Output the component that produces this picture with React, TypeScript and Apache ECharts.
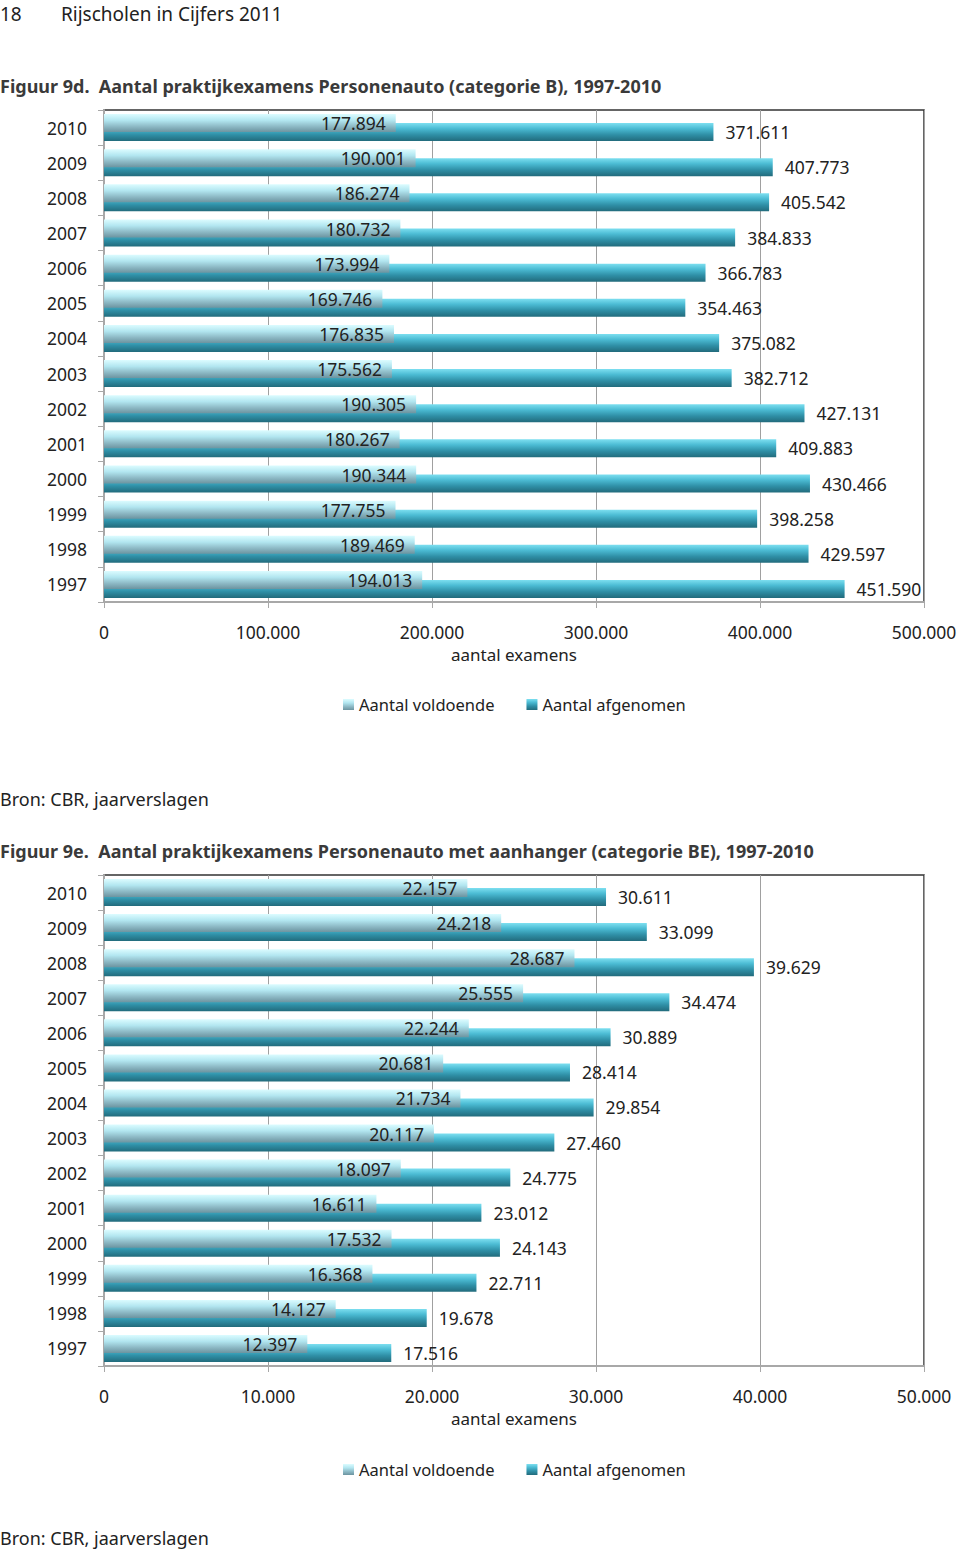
import React, { useEffect, useRef } from "react";
import * as echarts from "echarts";

const years = ["2010", "2009", "2008", "2007", "2006", "2005", "2004", "2003", "2002", "2001", "2000", "1999", "1998", "1997"];

const bVoldoende = [177894, 190001, 186274, 180732, 173994, 169746, 176835, 175562, 190305, 180267, 190344, 177755, 189469, 194013];
const bAfgenomen = [371611, 407773, 405542, 384833, 366783, 354463, 375082, 382712, 427131, 409883, 430466, 398258, 429597, 451590];

const beVoldoende = [22157, 24218, 28687, 25555, 22244, 20681, 21734, 20117, 18097, 16611, 17532, 16368, 14127, 12397];
const beAfgenomen = [30611, 33099, 39629, 34474, 30889, 28414, 29854, 27460, 24775, 23012, 24143, 22711, 19678, 17516];

const seriesNames = ["Aantal voldoende", "Aantal afgenomen"];
const axisName = "aantal examens";
const pageHeader = ["18", "Rijscholen in Cijfers 2011"];
const title1 = "Figuur 9d.  Aantal praktijkexamens Personenauto (categorie B), 1997-2010";
const title2 = "Figuur 9e.  Aantal praktijkexamens Personenauto met aanhanger (categorie BE), 1997-2010";
const source = "Bron: CBR, jaarverslagen";

const FONT = "Noto Sans";

const fmt = (v: number) => String(v).replace(/\B(?=(\d{3})+(?!\d))/g, ".");

const lightGrad = new echarts.graphic.LinearGradient(0, 0, 0, 1, [
  { offset: 0, color: "#dcfcff" },
  { offset: 0.35, color: "#b2e6f0" },
  { offset: 0.7, color: "#8cb8c4" },
  { offset: 1, color: "#6c94a0" },
]);
const darkGrad = new echarts.graphic.LinearGradient(0, 0, 0, 1, [
  { offset: 0, color: "#7ddff0" },
  { offset: 0.3, color: "#4cbcd4" },
  { offset: 0.65, color: "#2f8fa6" },
  { offset: 1, color: "#226b7c" },
]);

function makeAxes(gridIndex: number, max: number, interval: number) {
  const x = {
    type: "value",
    gridIndex,
    min: 0,
    max,
    interval,
    name: axisName,
    nameLocation: "middle",
    nameGap: 44,
    nameTextStyle: { fontFamily: FONT, fontSize: 17, color: "#222" },
    axisLine: { show: true, lineStyle: { color: "#a8a8a8", width: 2 } },
    axisTick: { show: true, length: 6, lineStyle: { color: "#a8a8a8" } },
    axisLabel: { formatter: (v: number) => fmt(v), fontFamily: FONT, fontSize: 17.5, color: "#222", margin: 21 },
    splitLine: { show: true, lineStyle: { color: "#a0a0a0", width: 1 } },
  };
  const y = {
    type: "category",
    gridIndex,
    data: years,
    inverse: true,
    axisLine: { show: true, lineStyle: { color: "#a8a8a8", width: 2 } },
    axisTick: { show: true, length: 6, lineStyle: { color: "#a8a8a8" } },
    axisLabel: { fontFamily: FONT, fontSize: 17.5, color: "#222", margin: 17 },
  };
  return { x, y };
}

function makeSeries(idx: number, vold: number[], afg: number[]) {
  return [
    {
      name: seriesNames[0],
      type: "bar",
      xAxisIndex: idx,
      yAxisIndex: idx,
      data: vold,
      barWidth: 18,
      barGap: "-50%",
      z: 3,
      itemStyle: { color: lightGrad },
      label: {
        show: true,
        position: "insideRight",
        distance: 10,
        formatter: (p: any) => fmt(p.value),
        fontFamily: FONT,
        fontSize: 17.5,
        color: "#222",
      },
    },
    {
      name: seriesNames[1],
      type: "bar",
      xAxisIndex: idx,
      yAxisIndex: idx,
      data: afg,
      barWidth: 18,
      barGap: "-50%",
      z: 2,
      itemStyle: { color: darkGrad },
      label: {
        show: true,
        position: "right",
        distance: 12,
        formatter: (p: any) => fmt(p.value),
        fontFamily: FONT,
        fontSize: 17.5,
        color: "#222",
      },
    },
  ];
}

export default function App() {
  const ref = useRef<HTMLDivElement>(null);
  useEffect(() => {
    if (!ref.current) return;
    const chart = echarts.init(ref.current, undefined, { renderer: "svg" });
    const a1 = makeAxes(0, 500000, 100000);
    const a2 = makeAxes(1, 50000, 10000);
    const legendBase = {
      left: 338,
      itemWidth: 11,
      itemHeight: 11,
      itemGap: 32,
      icon: "rect",
      textStyle: { fontFamily: FONT, fontSize: 16.5, color: "#222" },
      data: seriesNames,
    };
    chart.setOption({
      animation: false,
      backgroundColor: "#ffffff",
      grid: [
        { left: 104, top: 110, width: 820, height: 492, show: true, borderColor: "#333", borderWidth: 1.5, containLabel: false },
        { left: 104, top: 875, width: 820, height: 491, show: true, borderColor: "#333", borderWidth: 1.5, containLabel: false },
      ],
      xAxis: [a1.x, a2.x],
      yAxis: [a1.y, a2.y],
      legend: [
        { ...legendBase, top: 691 },
        { ...legendBase, top: 1456 },
      ],
      series: [...makeSeries(0, bVoldoende, bAfgenomen), ...makeSeries(1, beVoldoende, beAfgenomen)],
      graphic: [
        { type: "text", left: 0, top: 4, style: { text: pageHeader[0], fontFamily: FONT, fontSize: 19, fill: "#222" } },
        { type: "text", left: 61, top: 4, style: { text: pageHeader[1], fontFamily: FONT, fontSize: 19, fill: "#222" } },
        { type: "text", left: 0, top: 77, style: { text: title1, fontFamily: FONT, fontSize: 18, fontWeight: "bold", fill: "#3a3a3a" } },
        { type: "text", left: 0, top: 790, style: { text: source, fontFamily: FONT, fontSize: 18, fill: "#222" } },
        { type: "text", left: 0, top: 842, style: { text: title2, fontFamily: FONT, fontSize: 18, fontWeight: "bold", fill: "#3a3a3a" } },
        { type: "text", left: 0, top: 1529, style: { text: source, fontFamily: FONT, fontSize: 18, fill: "#222" } },
      ],
    });
    return () => chart.dispose();
  }, []);
  return <div ref={ref} style={{ position: "absolute", left: 0, top: 0, width: 960, height: 1552 }} />;
}
